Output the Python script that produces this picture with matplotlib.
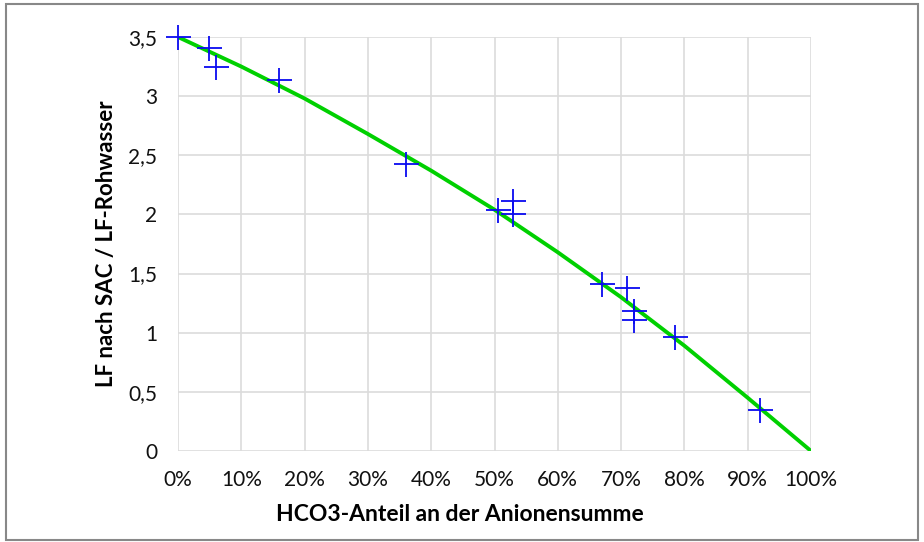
import numpy as np
import matplotlib.pyplot as plt
from matplotlib.patches import Rectangle
from matplotlib.ticker import FuncFormatter, MultipleLocator

# Messpunkte (HCO3-Anteil, LF-Verhaeltnis)
hco3_share = [0.0, 0.049, 0.06, 0.16, 0.36, 0.505, 0.53, 0.53, 0.67, 0.709, 0.72, 0.72, 0.785, 0.92]
lf_ratio = [3.5, 3.41, 3.25, 3.14, 2.43, 2.04, 2.11, 2.0, 1.415, 1.38, 1.18, 1.11, 0.96, 0.35]

# Trendlinie
trend_x = [0.0, 0.1, 0.2, 0.3, 0.4, 0.5, 0.6, 0.7, 0.8, 0.9, 1.0]
trend_y = [3.5, 3.25, 2.98, 2.68, 2.37, 2.04, 1.68, 1.30, 0.89, 0.45, 0.0]

plt.rcParams['font.family'] = ['Lato', 'DejaVu Sans']

fig = plt.figure(figsize=(9.24, 5.42), dpi=100)
ax = fig.add_axes([178 / 924, 1 - 451 / 542, (811 - 178) / 924, (451 - 37) / 542])

ax.plot(trend_x, trend_y, color='#00d000', linewidth=2.8, zorder=2, solid_capstyle='butt')
ax.plot(hco3_share, lf_ratio, linestyle='none', marker='+', markersize=18,
        markeredgewidth=1.3, color='#0a0af0', zorder=3, clip_on=False)

ax.set_xlim(0, 1)
ax.set_ylim(0, 3.5)
ax.xaxis.set_major_locator(MultipleLocator(0.1))
ax.yaxis.set_major_locator(MultipleLocator(0.5))
ax.xaxis.set_major_formatter(FuncFormatter(lambda v, p: f"{v * 100:.0f}%"))
ax.yaxis.set_major_formatter(FuncFormatter(lambda v, p: f"{v:g}".replace('.', ',')))

ax.grid(color='#dcdcdc', linewidth=1.2, zorder=0)
ax.set_axisbelow(True)
for s in ax.spines.values():
    s.set_visible(False)
ax.tick_params(length=0, labelsize=15, colors='#111111')
ax.tick_params(axis='x', pad=14)
ax.tick_params(axis='y', pad=15)

ax.set_xlabel("HCO3-Anteil an der Anionensumme", fontsize=16.5, fontweight='bold', labelpad=10)
ax.xaxis.label.set_x(0.446)  # Achsentitel sitzt leicht links der Mitte
ax.set_ylabel("LF nach SAC / LF-Rohwasser", fontsize=16, fontweight='bold', labelpad=8)

fig.patches.append(Rectangle((6 / 924, 2 / 542), 912 / 924, 536 / 542, transform=fig.transFigure,
                             fill=False, edgecolor='#888888', linewidth=1.5))

fig.savefig('out.png', dpi=100)
